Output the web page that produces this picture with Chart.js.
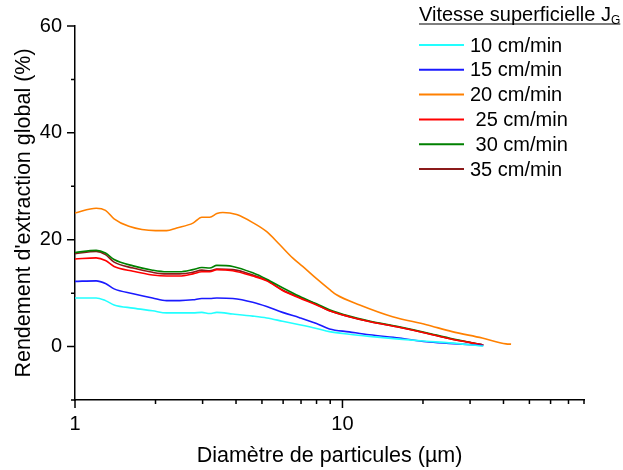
<!DOCTYPE html>
<html>
<head>
<meta charset="utf-8">
<script src="https://cdn.jsdelivr.net/npm/chart.js@4.4.1/dist/chart.umd.min.js"></script>
<style>
  body { margin: 0; background: #fff; }
  canvas { display: block; }
</style>
</head>
<body>
<canvas id="chart" width="623" height="470"></canvas>
<script>
// diamètres (µm) communs aux séries 10, 15, 25, 30, 35 cm/min
const diametres = [1.0, 1.2, 1.3, 1.4, 1.65, 1.95, 2.2, 2.46, 2.76, 2.98, 3.19, 3.39, 3.89, 4.62, 5.21, 5.97, 6.91, 8.0, 8.94, 10.6, 12.6, 16.3, 20.6, 25.0, 33.6];
const rendement10 = [9.1, 9.1, 8.6, 7.8, 7.2, 6.7, 6.3, 6.3, 6.3, 6.4, 6.2, 6.4, 6.1, 5.7, 5.35, 4.75, 4.1, 3.4, 2.8, 2.3, 1.9, 1.4, 1.0, 0.7, 0.1];
const rendement15 = [12.2, 12.3, 11.8, 10.8, 9.9, 9.1, 8.6, 8.6, 8.75, 9.0, 9.0, 9.1, 9.0, 8.3, 7.5, 6.4, 5.4, 4.3, 3.3, 2.75, 2.2, 1.6, 0.9, 0.6, 0.2];
const rendement25 = [16.4, 16.6, 16.1, 15.0, 14.1, 13.4, 13.2, 13.2, 13.6, 14.0, 14.0, 14.4, 14.2, 13.2, 12.3, 10.5, 9.1, 7.8, 6.7, 5.6, 4.7, 3.6, 2.5, 1.5, 0.3];
const rendement30 = [17.6, 18.0, 17.5, 16.3, 15.1, 14.3, 14.0, 14.0, 14.4, 14.8, 14.7, 15.2, 15.0, 13.8, 12.6, 11.0, 9.4, 8.0, 6.9, 5.7, 4.8, 3.7, 2.6, 1.6, 0.3];
const rendement35 = [17.4, 17.8, 17.2, 15.8, 14.7, 13.9, 13.6, 13.6, 13.9, 14.3, 14.2, 14.5, 14.4, 13.4, 12.4, 10.6, 9.2, 7.9, 6.7, 5.6, 4.7, 3.6, 2.5, 1.5, 0.3];

// la série 20 cm/min va plus loin
const diametres20 = [1.0, 1.2, 1.3, 1.4, 1.59, 2.0, 2.2, 2.4, 2.76, 2.98, 3.19, 3.39, 3.57, 4.02, 4.62, 5.21, 5.82, 6.51, 7.1, 8.0, 8.94, 9.5, 11.6, 15.4, 20.6, 25.7, 33.3, 40.9, 42.7];
const rendement20 = [25.0, 25.9, 25.5, 23.9, 22.5, 21.7, 21.7, 22.2, 23.1, 24.2, 24.2, 24.9, 25.1, 24.7, 23.2, 21.5, 19.1, 16.6, 15.0, 12.7, 10.7, 9.7, 7.8, 5.6, 4.1, 2.8, 1.6, 0.5, 0.45];

const libelles = ['10 cm/min', '15 cm/min', '20 cm/min', ' 25 cm/min', ' 30 cm/min', '35 cm/min'];
const couleurs = ['#22FFFF', '#1A1AFF', '#FF8000', '#FF0000', '#008000', '#8B1A1A'];

const ticksX = [1, 2, 3, 4, 5, 6, 7, 8, 9, 10, 20, 30, 40, 50, 60, 70, 80];
const labelsX = [1, 10];
const labelsY = [0, 20, 40, 60];

const FONT = "'Liberation Sans', Arial, sans-serif";

function pts(xs, ys) {
  return xs.map((x, i) => ({ x: x, y: ys[i] }));
}

const series = [
  pts(diametres, rendement10),
  pts(diametres, rendement15),
  pts(diametres20, rendement20),
  pts(diametres, rendement25),
  pts(diametres, rendement30),
  pts(diametres, rendement35),
];

// petits traits des axes (majeurs longs, mineurs courts)
const axisTicks = {
  id: 'axisTicks',
  afterDraw(chart) {
    const ctx = chart.ctx;
    const xs = chart.scales.x, ys = chart.scales.y;
    ctx.save();
    ctx.strokeStyle = '#000';
    ctx.lineWidth = 1.5;
    ctx.beginPath();
    xs.ticks.forEach(t => {
      const px = xs.getPixelForValue(t.value);
      const len = labelsX.includes(t.value) ? 8 : 4;
      ctx.moveTo(px, xs.top);
      ctx.lineTo(px, xs.top + len);
    });
    ys.ticks.forEach(t => {
      const py = ys.getPixelForValue(t.value);
      const len = labelsY.includes(t.value) ? 8 : 4;
      ctx.moveTo(ys.right, py);
      ctx.lineTo(ys.right - len, py);
    });
    ctx.stroke();
    ctx.restore();
  }
};

// légende avec titre souligné et indice
const legendeJG = {
  id: 'legendeJG',
  afterDraw(chart) {
    const ctx = chart.ctx;
    ctx.save();
    ctx.fillStyle = '#000';
    ctx.textBaseline = 'middle';
    ctx.font = '20px ' + FONT;
    const titre = 'Vitesse superficielle J';
    const x0 = 419;
    ctx.fillText(titre, x0, 15);
    const w = ctx.measureText(titre).width;
    ctx.font = '12px ' + FONT;
    ctx.fillText('G', x0 + w, 21);
    const wg = ctx.measureText('G').width;
    ctx.strokeStyle = '#000';
    ctx.lineWidth = 1.2;
    ctx.beginPath();
    ctx.moveTo(x0, 24);
    ctx.lineTo(x0 + w + wg, 24);
    ctx.stroke();

    ctx.font = '20px ' + FONT;
    chart.data.datasets.forEach((ds, i) => {
      const y = 45 + i * 24.8;
      ctx.strokeStyle = ds.borderColor;
      ctx.lineWidth = 2;
      ctx.beginPath();
      ctx.moveTo(419, y);
      ctx.lineTo(464, y);
      ctx.stroke();
      ctx.fillText(ds.label, 470, y + 1);
    });
    ctx.restore();
  }
};

new Chart(document.getElementById('chart'), {
  type: 'line',
  data: {
    datasets: series.map((d, i) => ({
      label: libelles[i],
      data: d,
      borderColor: couleurs[i],
      backgroundColor: couleurs[i],
      borderWidth: 1.6,
      pointRadius: 0,
      fill: false,
      cubicInterpolationMode: 'monotone',
    })),
  },
  options: {
    responsive: false,
    animation: false,
    devicePixelRatio: 1,
    layout: { padding: { top: 26, right: 39, left: 0, bottom: 0 } },
    plugins: {
      legend: { display: false },
      tooltip: { enabled: false },
    },
    scales: {
      x: {
        type: 'logarithmic',
        min: 1,
        max: 80,
        afterBuildTicks: (scale) => {
          scale.ticks = ticksX.map(v => ({ value: v }));
        },
        afterFit: (scale) => { scale.height = 70; },
        grid: { display: true, drawOnChartArea: false, drawTicks: false },
        border: { display: true, color: '#000', width: 1.5 },
        ticks: {
          autoSkip: false,
          maxRotation: 0,
          padding: 12,
          color: '#000',
          font: { family: FONT, size: 20 },
          callback: (v) => labelsX.includes(v) ? String(v) : '',
        },
        title: {
          display: true,
          text: 'Diamètre de particules (µm)',
          color: '#000',
          font: { family: FONT, size: 21.5 },
          padding: { top: 0, bottom: 1 },
        },
      },
      y: {
        min: -10,
        max: 60,
        afterFit: (scale) => { scale.width = 75; },
        grid: { display: true, drawOnChartArea: false, drawTicks: false },
        border: { display: true, color: '#000', width: 1.5 },
        ticks: {
          stepSize: 10,
          padding: 13,
          color: '#000',
          font: { family: FONT, size: 20 },
          callback: (v) => labelsY.includes(v) ? String(v) : '',
        },
        title: {
          display: true,
          text: "Rendement d'extraction global (%)",
          color: '#000',
          font: { family: FONT, size: 21.5 },
          padding: { top: 11, bottom: 0 },
        },
      },
    },
  },
  plugins: [axisTicks, legendeJG],
});
</script>
</body>
</html>
